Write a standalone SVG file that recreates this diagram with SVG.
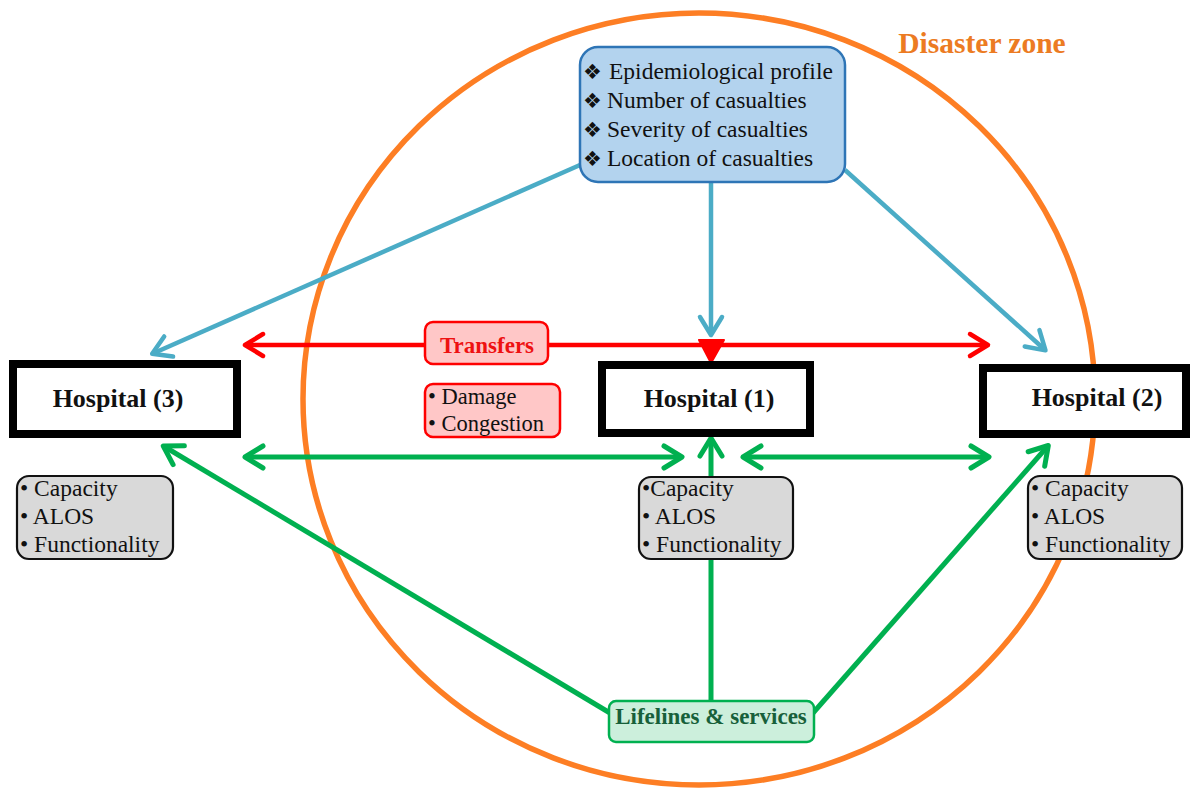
<svg xmlns="http://www.w3.org/2000/svg" width="1192" height="789" viewBox="0 0 1192 789">
  <defs>
    <style>
      .t { font-family: "Liberation Serif", "Times New Roman", serif; fill: #111; }
      .hosp rect { fill: #fff; stroke: #000; stroke-width: 8; }
      .hosp text { font-size: 26px; font-weight: bold; text-anchor: middle; }
      .info rect { fill: #d9d9d9; stroke: #111; stroke-width: 2.2; }
      .info text { font-size: 23.5px; }
      .blue { stroke: #4bacc6; stroke-width: 4.5; fill: none; }
      .red { stroke: #ff0000; stroke-width: 4.5; fill: none; }
      .green { stroke: #00b050; stroke-width: 5; fill: none; }
      .sym { font-family: "DejaVu Sans", sans-serif; font-size: 21px; }
    </style>
    <marker id="hBlue" markerUnits="userSpaceOnUse" viewBox="0 0 30 30" markerWidth="30" markerHeight="30" refX="23" refY="15" orient="auto-start-reverse">
      <path d="M7,4 L25,15 L7,26" fill="none" stroke="#4bacc6" stroke-width="4.5" stroke-linecap="round" stroke-linejoin="round"/>
    </marker>
    <marker id="hRed" markerUnits="userSpaceOnUse" viewBox="0 0 30 30" markerWidth="30" markerHeight="30" refX="23" refY="15" orient="auto-start-reverse">
      <path d="M7,4 L25,15 L7,26" fill="none" stroke="#ff0000" stroke-width="4.5" stroke-linecap="round" stroke-linejoin="round"/>
    </marker>
    <marker id="hGreen" markerUnits="userSpaceOnUse" viewBox="0 0 30 30" markerWidth="30" markerHeight="30" refX="23" refY="15" orient="auto-start-reverse">
      <path d="M7,4 L25,15 L7,26" fill="none" stroke="#00b050" stroke-width="5" stroke-linecap="round" stroke-linejoin="round"/>
    </marker>
  </defs>

  <rect width="1192" height="789" fill="#fff"/>

  <!-- disaster zone boundary -->
  <g id="zone">
    <ellipse cx="699" cy="399" rx="396" ry="386" fill="none" stroke="#fd7e24" stroke-width="5.5"/>
    <text class="t" x="982" y="53" text-anchor="middle" font-size="29.5" font-weight="bold" style="fill:#ec7b22">Disaster zone</text>
  </g>

  <!-- connectors -->
  <g id="connectors">
    <!-- casualty information flows -->
    <line class="blue" x1="580" y1="165" x2="154" y2="353" marker-end="url(#hBlue)"/>
    <line class="blue" x1="711" y1="183" x2="711" y2="333" marker-end="url(#hBlue)"/>
    <line class="blue" x1="845" y1="170" x2="1044" y2="349" marker-end="url(#hBlue)"/>
    <!-- transfers -->
    <line class="red" x1="247" y1="345" x2="986" y2="345" marker-start="url(#hRed)" marker-end="url(#hRed)"/>
    <path d="M699,340 L724,340 L711,363 Z" fill="#ff0000" stroke="#ff0000" stroke-width="2" stroke-linejoin="round"/>
    <!-- lifelines and services -->
    <line class="green" x1="247" y1="457" x2="680" y2="457" marker-start="url(#hGreen)" marker-end="url(#hGreen)"/>
    <line class="green" x1="745" y1="457" x2="987" y2="457" marker-start="url(#hGreen)" marker-end="url(#hGreen)"/>
    <line class="green" x1="711" y1="702" x2="711" y2="440" marker-end="url(#hGreen)"/>
    <line class="green" x1="610" y1="713" x2="165" y2="447" marker-end="url(#hGreen)"/>
    <line class="green" x1="813" y1="713" x2="1047" y2="447" marker-end="url(#hGreen)"/>
  </g>

  <!-- casualty profile -->
  <g id="casualties">
    <rect x="580" y="47" width="265" height="135" rx="18" fill="#b3d3ee" stroke="#2e75b6" stroke-width="2.5"/>
    <text class="t" font-size="23.5"><tspan class="sym" x="583" y="79">❖</tspan><tspan x="609" y="79">Epidemiological profile</tspan></text>
    <text class="t" font-size="23.5"><tspan class="sym" x="583" y="108">❖</tspan><tspan x="607" y="108">Number of casualties</tspan></text>
    <text class="t" font-size="23.5"><tspan class="sym" x="583" y="137">❖</tspan><tspan x="607" y="137">Severity of casualties</tspan></text>
    <text class="t" font-size="23.5"><tspan class="sym" x="583" y="166">❖</tspan><tspan x="607" y="166">Location of casualties</tspan></text>
  </g>

  <!-- hospitals -->
  <g id="hospital3" class="hosp">
    <rect x="13" y="364" width="224" height="70"/>
    <text class="t" x="118" y="407">Hospital (3)</text>
  </g>
  <g id="hospital1" class="hosp">
    <rect x="602" y="365" width="208" height="68"/>
    <text class="t" x="709" y="407">Hospital (1)</text>
  </g>
  <g id="hospital2" class="hosp">
    <rect x="983" y="368" width="203" height="66"/>
    <text class="t" x="1097" y="406">Hospital (2)</text>
  </g>

  <!-- hospital attributes -->
  <g id="info3" class="info">
    <rect x="17" y="476" width="156" height="83" rx="12"/>
    <text class="t" x="20" y="496">• Capacity</text>
    <text class="t" x="20" y="524">• ALOS</text>
    <text class="t" x="20" y="552">• Functionality</text>
  </g>
  <g id="info1" class="info">
    <rect x="639" y="477" width="154" height="82" rx="12"/>
    <text class="t" x="642" y="496">•Capacity</text>
    <text class="t" x="642" y="524">• ALOS</text>
    <text class="t" x="642" y="552">• Functionality</text>
  </g>
  <g id="info2" class="info">
    <rect x="1028" y="476" width="154" height="83" rx="12"/>
    <text class="t" x="1031" y="496">• Capacity</text>
    <text class="t" x="1031" y="524">• ALOS</text>
    <text class="t" x="1031" y="552">• Functionality</text>
  </g>

  <!-- transfer label and road conditions -->
  <g id="transfers">
    <rect x="425" y="322" width="123" height="42" rx="8" fill="#ffc7c7" stroke="#ff0000" stroke-width="2.5"/>
    <text class="t" x="487" y="353" text-anchor="middle" font-size="23" font-weight="bold" style="fill:#ee1111">Transfers</text>
  </g>
  <g id="roads">
    <rect x="425" y="384" width="135" height="53" rx="8" fill="#ffc7c7" stroke="#ff0000" stroke-width="2.5"/>
    <text class="t" x="428" y="404" font-size="22.5">• Damage</text>
    <text class="t" x="428" y="431" font-size="22.5">• Congestion</text>
  </g>

  <!-- lifelines -->
  <g id="lifelines">
    <rect x="609" y="701" width="205" height="41" rx="7" fill="#ccefdc" stroke="#00b050" stroke-width="2.5"/>
    <text class="t" x="711" y="724" text-anchor="middle" font-size="23" font-weight="bold" style="fill:#17603a">Lifelines &amp; services</text>
  </g>
</svg>
